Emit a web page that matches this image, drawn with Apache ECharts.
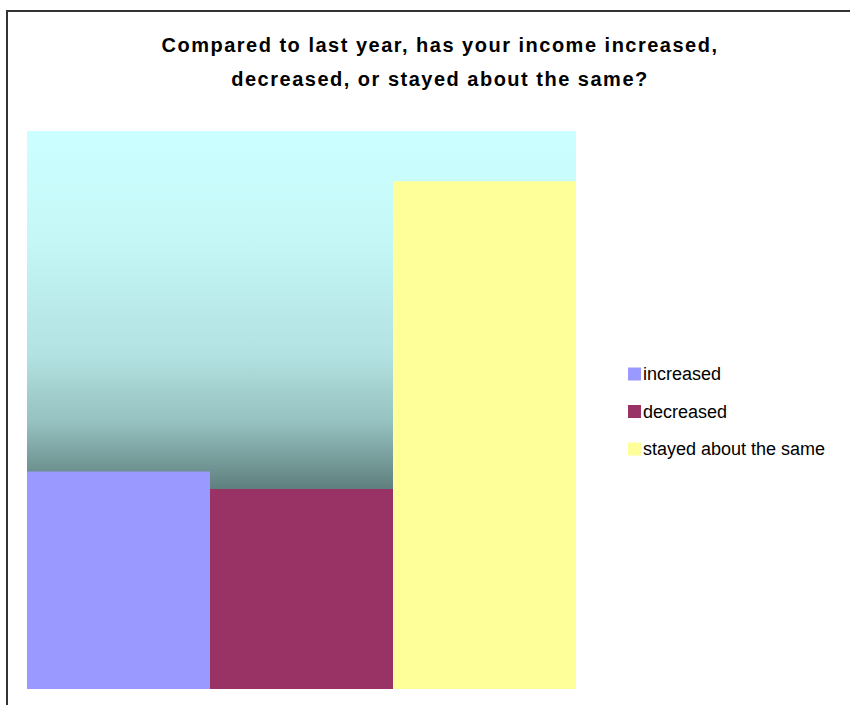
<!DOCTYPE html>
<html>
<head>
<meta charset="utf-8">
<script src="https://cdn.jsdelivr.net/npm/echarts@6/dist/echarts.min.js"></script>
<style>
  html, body { margin: 0; padding: 0; background: #ffffff; }
  #chart { width: 850px; height: 705px; }
  /* the heading is set with loose tracking */
  #chart svg text.tracked { letter-spacing: 1.5px; }
</style>
</head>
<body>
<div id="chart"></div>
<script>
// Survey answers (percent of respondents)
const categories = ['income'];
const seriesNames = ['increased', 'decreased', 'stayed about the same'];
const increasedValues = [23.4];
const decreasedValues = [21.5];
const sameValues = [54.6];
const seriesColors = ['#9999FF', '#993366', '#FFFF99'];
const titleText = 'Compared to last year, has your income increased,\ndecreased, or stayed about the same?';

const chart = echarts.init(document.getElementById('chart'), null, { renderer: 'svg' });

const valueSets = [increasedValues, decreasedValues, sameValues];
const series = seriesNames.map((name, i) => ({
  name: name,
  type: 'bar',
  data: valueSets[i],
  barGap: '0%',
  barCategoryGap: '0%',
  itemStyle: { color: seriesColors[i] },
  emphasis: { disabled: true },
  silent: true
}));

chart.setOption({
  animation: false,
  backgroundColor: '#ffffff',
  title: {
    text: titleText,
    left: 435,
    textAlign: 'center',
    top: 23,
    textStyle: {
      fontFamily: 'Liberation Sans, Arial, sans-serif',
      fontSize: 20,
      fontWeight: 'bold',
      color: '#000000',
      lineHeight: 34
    }
  },
  legend: {
    orient: 'vertical',
    left: 623,
    top: 360,
    itemWidth: 13,
    itemHeight: 13,
    itemGap: 19.5,
    icon: 'rect',
    selectedMode: false,
    textStyle: {
      fontFamily: 'Liberation Sans, Arial, sans-serif',
      fontSize: 18,
      lineHeight: 18,
      color: '#000000',
      padding: [0, 0, 0, -3]
    },
    data: seriesNames
  },
  grid: {
    left: 27,
    top: 131,
    width: 549,
    height: 558,
    show: true,
    borderWidth: 0,
    backgroundColor: new echarts.graphic.LinearGradient(0, 0, 0, 1, [
      { offset: 0, color: '#CCFFFF' },
      { offset: 0.2, color: '#C4F7F6' },
      { offset: 0.4, color: '#B2E2E1' },
      { offset: 0.52, color: '#96C2C1' },
      { offset: 0.64, color: '#5F807E' },
      { offset: 1, color: '#0E1414' }
    ])
  },
  xAxis: {
    type: 'category',
    data: categories,
    show: false
  },
  yAxis: {
    type: 'value',
    min: 0,
    max: 60,
    show: false
  },
  graphic: [{
    type: 'rect',
    shape: { x: 7, y: 11, width: 1000, height: 1000 },
    style: { fill: 'none', stroke: '#333333', lineWidth: 2 },
    silent: true,
    z: 100
  }],
  series: series
});

// apply tracking to the heading's text nodes
document.querySelectorAll('#chart svg text').forEach(t => {
  if (t.textContent.indexOf('Compared') === 0 || t.textContent.indexOf('decreased,') === 0) {
    t.classList.add('tracked');
  }
});
</script>
</body>
</html>
